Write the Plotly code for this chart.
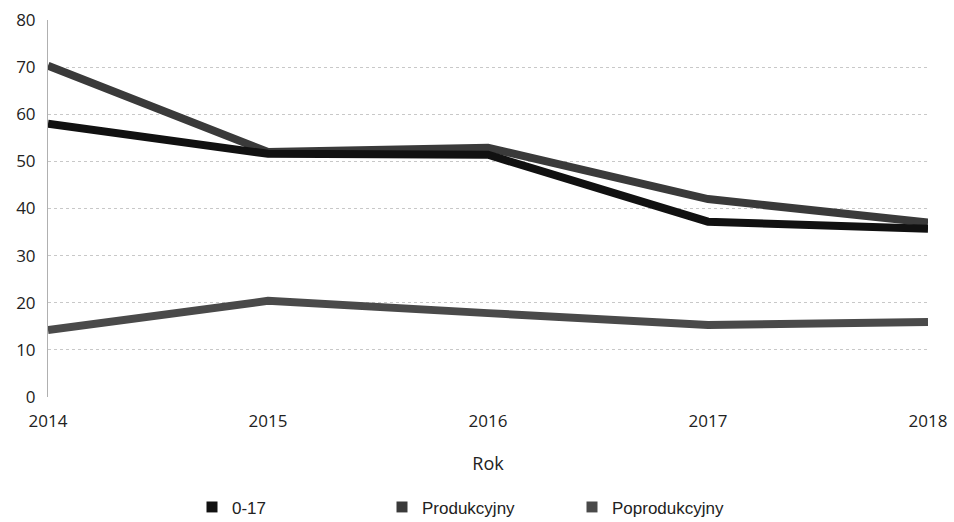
import plotly.graph_objects as go

years = [2014, 2015, 2016, 2017, 2018]
year_labels = ["2014", "2015", "2016", "2017", "2018"]
s_0_17 = [58.0, 51.6, 51.4, 37.2, 35.7]
s_prod = [70.3, 52.0, 52.9, 42.0, 37.0]
s_poprod = [14.2, 20.4, 17.8, 15.3, 15.9]
names = ["0-17", "Produkcyjny", "Poprodukcyjny"]
colors = ["#111111", "#3a3a3a", "#4a4a4a"]

fig = go.Figure()
for name, vals, c in [(names[2], s_poprod, colors[2]), (names[1], s_prod, colors[1]), (names[0], s_0_17, colors[0])]:
    fig.add_trace(go.Scatter(x=years, y=vals, mode="lines", name=name,
                             line=dict(color=c, width=8), showlegend=False))
for name, c in zip(names, colors):
    fig.add_trace(go.Scatter(x=[None], y=[None], mode="markers", name=name,
                             marker=dict(symbol="square", size=11, color=c)))

fig.update_layout(
    width=954, height=522,
    margin=dict(l=48, r=26, t=20, b=125),
    paper_bgcolor="white", plot_bgcolor="white",
    font=dict(family="Open Sans", size=17, color="#222"),
    xaxis=dict(range=[2014, 2018], tickvals=years, ticktext=year_labels,
               showgrid=False, zeroline=False, showline=False, automargin=False,
               tickfont=dict(size=17), ticks="", ticklabelstandoff=12,
               title=dict(text="Rok", font=dict(size=18), standoff=26)),
    yaxis=dict(range=[0, 80], dtick=10, showgrid=True, gridcolor="#c8c8c8",
               griddash="dot", gridwidth=1, zeroline=False, automargin=False,
               showline=True, linecolor="#b0b0b0", linewidth=1,
               tickfont=dict(size=17), ticks="", ticklabelstandoff=8),
    legend=dict(orientation="h", x=0.5, xanchor="center", xref="container",
                y=0.028, yanchor="middle", yref="container",
                font=dict(family="Liberation Sans", size=17, color="#222"),
                entrywidth=145, entrywidthmode="pixels", itemwidth=30),
)
fig.write_html("out.html", config={"displayModeBar": False},
               post_script="document.body.style.margin='0';")
